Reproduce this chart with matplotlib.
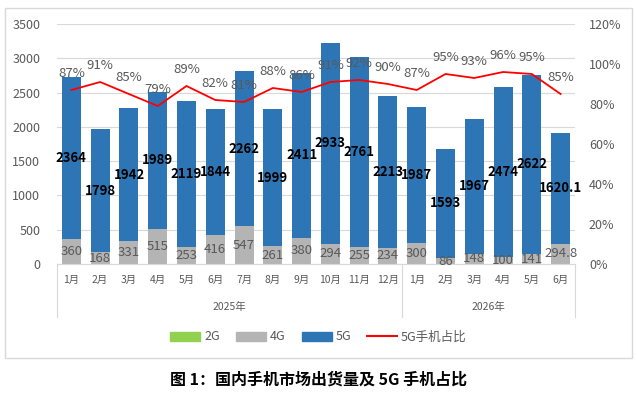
import matplotlib
matplotlib.use("Agg")
import matplotlib.pyplot as plt
from matplotlib.patches import Rectangle, Patch
from matplotlib.lines import Line2D
import numpy as np

plt.rcParams['font.family'] = ['Noto Sans CJK SC', 'DejaVu Sans']

months = ['1月', '2月', '3月', '4月', '5月', '6月', '7月', '8月', '9月', '10月', '11月', '12月',
          '1月', '2月', '3月', '4月', '5月', '6月']
years = ['2025年', '2026年']
year_counts = [12, 6]
g2 = [0] * 18
g4 = [360, 168, 331, 515, 253, 416, 547, 261, 380, 294, 255, 234, 300, 86, 148, 100, 141, 294.8]
g5 = [2364, 1798, 1942, 1989, 2119, 1844, 2262, 1999, 2411, 2933, 2761, 2213, 1987, 1593, 1967, 2474, 2622, 1620.1]
share = [87, 91, 85, 79, 89, 82, 81, 88, 86, 91, 92, 90, 87, 95, 93, 96, 95, 85]

c2 = '#92D050'
c4 = '#B4B4B4'
c5 = '#2E75B6'
txt = '#595959'

fig = plt.figure(figsize=(6.37, 3.94), dpi=100)
fig.patches.append(Rectangle((5 / 637, 1 - 358 / 394), 627 / 637, 350 / 394,
                             transform=fig.transFigure, fill=False, edgecolor='#D9D9D9', lw=1))
ax = fig.add_axes([57 / 637, 1 - 264 / 394, 518 / 637, 240 / 394])
x = np.arange(len(months))
w = 0.66
ax.bar(x, g2, w, color=c2)
ax.bar(x, g4, w, bottom=g2, color=c4)
b5 = np.array(g4) + np.array(g2)
ax.bar(x, g5, w, bottom=b5, color=c5)

for i in x:
    ax.text(i, g4[i] / 2, f'{g4[i]:g}', ha='center', va='center', fontsize=9.5, color=txt)
    ax.text(i, b5[i] + g5[i] / 2, f'{g5[i]:g}', ha='center', va='center', fontsize=9.5,
            color='black', fontweight='bold')

ax.set_ylim(0, 3500)
ax.set_yticks(range(0, 3501, 500))
ax.set_xlim(-0.5, len(months) - 0.5)
ax.set_xticks(x)
ax.set_xticklabels(months, fontsize=7.5, color=txt)
ax.tick_params(axis='x', length=0, pad=8)
ax.tick_params(axis='y', length=0, labelsize=9, labelcolor=txt, pad=12)
ax.grid(axis='y', color='#D9D9D9', lw=0.8)
ax.set_axisbelow(True)
for s in ['top', 'left', 'right']:
    ax.spines[s].set_visible(False)
ax.spines['bottom'].set_color('#D9D9D9')

# year groups under the months
start = -0.5
tr = ax.get_xaxis_transform()
ax.add_line(Line2D([start, start], [0, -0.22], transform=tr, color='#D9D9D9', lw=0.8, clip_on=False))
for yr, n in zip(years, year_counts):
    ax.text(start + n / 2, -0.18, yr, transform=tr, ha='center', va='center', fontsize=7.5, color=txt)
    start += n
    ax.add_line(Line2D([start, start], [0, -0.22], transform=tr, color='#D9D9D9', lw=0.8, clip_on=False))

ax2 = ax.twinx()
ax2.plot(x, share, color='red', lw=1.3)
for i in x:
    ax2.annotate(f'{share[i]}%', (i, share[i]), xytext=(0, 12), textcoords='offset points',
                 ha='center', va='center', fontsize=9.5, color=txt)
ax2.set_ylim(0, 120)
ax2.set_yticks(range(0, 121, 20))
ax2.set_yticklabels([f'{v}%' for v in range(0, 121, 20)])
ax2.tick_params(axis='y', length=0, labelsize=9, labelcolor=txt, pad=10)
for s in ax2.spines.values():
    s.set_visible(False)

handles = [Patch(color=c2), Patch(color=c4), Patch(color=c5), Line2D([], [], color='red', lw=1.5)]
fig.legend(handles, ['2G', '4G', '5G', '5G手机占比'], loc='center', bbox_to_anchor=(0.5, 1 - 337 / 394),
           ncol=4, frameon=False, fontsize=9, labelcolor=txt, handlelength=2.4, columnspacing=1.3,
           handleheight=0.7, handletextpad=0.3)

fig.text(0.5, 1 - 380 / 394, '图 1：国内手机市场出货量及 5G 手机占比', ha='center', va='center',
         fontsize=11.5, fontweight='bold', color='black')

fig.savefig('out.png', dpi=100)
